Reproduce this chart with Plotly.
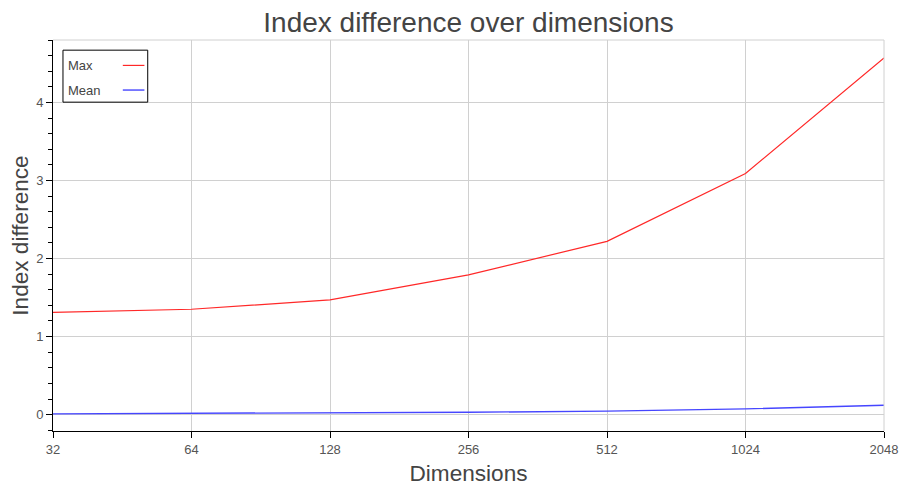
import plotly.graph_objects as go

dimensions = [32, 64, 128, 256, 512, 1024, 2048]
max_diff = [1.31, 1.35, 1.47, 1.79, 2.22, 3.09, 4.57]
mean_diff = [0.01, 0.015, 0.025, 0.03, 0.045, 0.073, 0.12]
tick_labels = ["32", "64", "128", "256", "512", "1024", "2048"]

FONT = "Liberation Sans, Arial, sans-serif"
TXT = "#444444"
TICK = "#555555"

W, H = 902, 492

fig = go.Figure()
fig.add_trace(go.Scatter(x=dimensions, y=max_diff, mode="lines", name="Max",
                         line=dict(color="rgb(255,40,40)", width=1.2)))
fig.add_trace(go.Scatter(x=dimensions, y=mean_diff, mode="lines", name="Mean",
                         line=dict(color="rgb(70,70,255)", width=1.4)))

fig.update_layout(
    width=W, height=H,
    margin=dict(l=53, r=18, t=40, b=61, autoexpand=False),
    paper_bgcolor="white", plot_bgcolor="white",
    showlegend=False,
    font=dict(family=FONT, color=TXT, size=13),
    title=dict(text="Index difference over dimensions", x=0.5, xref="paper",
               y=1 - 22 / H, yref="container", xanchor="center", yanchor="middle",
               font=dict(size=28, color=TXT, family=FONT)),
)
fig.update_xaxes(
    type="log", range=[1.50515, 3.31133], automargin=False,
    tickvals=dimensions, ticktext=tick_labels,
    showgrid=True, gridcolor="#d0d0d0", gridwidth=1,
    showline=True, linecolor="black", linewidth=1, mirror=False,
    ticks="outside", ticklen=6, tickcolor="black",
    tickfont=dict(size=13, color=TICK),
    title=dict(text="Dimensions", font=dict(size=22.6, color=TXT), standoff=9),
    zeroline=False,
)
fig.update_yaxes(
    range=[-0.21, 4.8], automargin=False,
    tickvals=[0, 1, 2, 3, 4],
    showgrid=True, gridcolor="#d0d0d0", gridwidth=1,
    showline=True, linecolor="black", linewidth=1,
    ticks="outside", ticklen=6, tickcolor="black",
    minor=dict(dtick=0.2, ticks="outside", ticklen=4, tickcolor="black", showgrid=False),
    tickfont=dict(size=13, color=TICK),
    title=dict(text="Index difference", font=dict(size=22.6, color=TXT), standoff=1),
    zeroline=False,
)
# light top and right borders
fig.add_shape(type="line", xref="paper", yref="paper", x0=0, x1=1, y0=1, y1=1,
              line=dict(color="#d0d0d0", width=1))
fig.add_shape(type="line", xref="paper", yref="paper", x0=1, x1=1, y0=0, y1=1,
              line=dict(color="#d0d0d0", width=1))

# legend box (text left, line sample right)
fig.add_shape(type="rect", xref="paper", yref="paper", x0=0.012, x1=0.114, y0=0.841, y1=0.974,
              line=dict(color="black", width=1), fillcolor="white", layer="above")
fig.add_annotation(text="Max", xref="paper", yref="paper", x=0.016, y=0.935,
                   xanchor="left", yanchor="middle", showarrow=False, font=dict(size=13, color=TXT))
fig.add_annotation(text="Mean", xref="paper", yref="paper", x=0.016, y=0.872,
                   xanchor="left", yanchor="middle", showarrow=False, font=dict(size=13, color=TXT))
fig.add_shape(type="line", xref="paper", yref="paper", x0=0.084, x1=0.110, y0=0.935, y1=0.935,
              line=dict(color="rgb(255,40,40)", width=1.2), layer="above")
fig.add_shape(type="line", xref="paper", yref="paper", x0=0.084, x1=0.110, y0=0.872, y1=0.872,
              line=dict(color="rgb(70,70,255)", width=1.4), layer="above")

fig.write_html(
    "out.html",
    config={"displayModeBar": False},
    post_script="document.body.style.margin='0';document.body.style.overflow='hidden';"
                "document.documentElement.style.overflow='hidden';",
)
